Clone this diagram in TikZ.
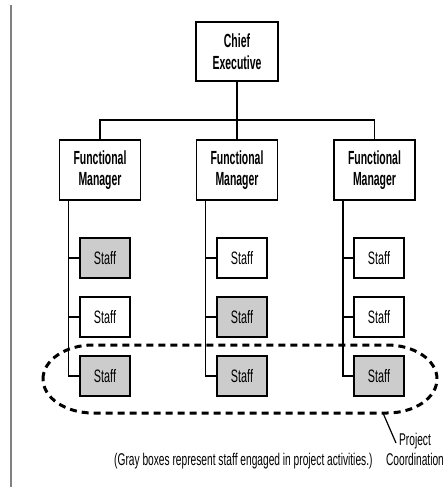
\documentclass[tikz,border=0pt]{standalone}
\usepackage{fontspec}
\setmainfont{Liberation Sans}[FakeStretch=0.6]
\newfontfamily\headfont{Liberation Sans}[FakeStretch=0.55]
\begin{document}
\begin{tikzpicture}[x=1pt,y=-1pt,
  mgr/.style={draw, line width=1.8pt, inner sep=0pt, align=center,
    minimum width=81pt, minimum height=60pt,
    font=\headfont\bfseries\fontsize{19}{21.5}\selectfont},
  staff/.style={draw, line width=1.6pt, inner sep=0pt,
    minimum width=50pt, minimum height=40pt,
    font=\fontsize{18}{20}\selectfont},
  busy/.style={staff, fill=black!20},
  idle/.style={staff, fill=white},
  link/.style={line width=1.5pt},
  note/.style={inner sep=0pt, font=\fontsize{17}{20}\selectfont},
  coordring/.style={line width=3pt, dash pattern=on 7pt off 5pt}]
\useasboundingbox (0,0) rectangle (443,487);

% margin rule
\draw[black!50, line width=1.5pt] (11,5) -- (11,487);

% top of the chart
\node[mgr, minimum width=82pt, minimum height=59pt] (ceo) at (237,51.5) {Chief\\Executive};
\node[mgr] (fm1) at (100,170) {Functional\\Manager};
\node[mgr] (fm2) at (237,170) {Functional\\Manager};
\node[mgr] (fm3) at (374.5,170) {Functional\\Manager};

\draw[link] (ceo.south) -- (fm2.north);
\draw[link] (fm1.north) -- ++(0,-19) -| (fm3.north);

% staff, column by column
\node[busy] (s11) at (105,258) {Staff};
\node[idle] (s12) at (105,317) {Staff};
\node[busy] (s13) at (105,376) {Staff};

\node[idle] (s21) at (242,258) {Staff};
\node[busy] (s22) at (242,317) {Staff};
\node[busy] (s23) at (242,376) {Staff};

\node[idle] (s31) at (379,258) {Staff};
\node[idle] (s32) at (379,317) {Staff};
\node[busy] (s33) at (379,376) {Staff};

\foreach \c in {1,2,3}{
  \coordinate (sp\c) at ([xshift=10pt]fm\c.south west);
  \draw[link] (sp\c) |- (s\c3.west);
  \draw[link] (s\c1.west) -- (s\c1.west -| sp\c);
  \draw[link] (s\c2.west) -- (s\c2.west -| sp\c);
}

% project coordination ring
\draw[coordring] (43,379) .. controls (43,360.2) and (65.4,345) .. (93,345)
  -- (387,345) .. controls (414.6,345) and (437,360.2) .. (437,379)
  .. controls (437,397.8) and (414.6,413) .. (387,413)
  -- (93,413) .. controls (65.4,413) and (43,397.8) .. (43,379) -- cycle;

\node[note, anchor=base] (proj) at (415,445) {Project};
\node[note, anchor=base] (coord) at (415,465) {Coordination};
\coordinate (ringpt) at (383,413);
\coordinate (leadend) at (396,443);
\draw[line width=1.2pt] (ringpt) -- (leadend);

\node[note, anchor=base west] (caption) at (114,465)
  {(Gray boxes represent staff engaged in project activities.)};
\end{tikzpicture}
\end{document}
